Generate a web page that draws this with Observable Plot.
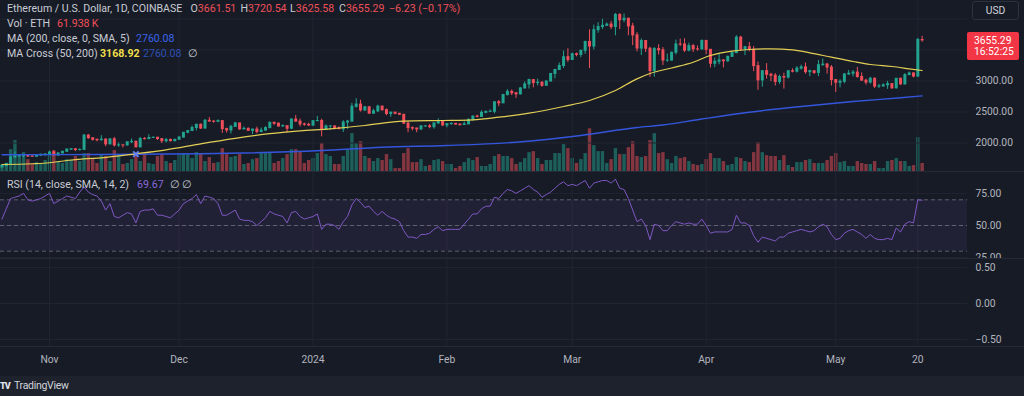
<!DOCTYPE html>
<html>
<head>
<meta charset="utf-8">
<script src="https://cdn.jsdelivr.net/npm/d3@7"></script>
<script src="https://cdn.jsdelivr.net/npm/@observablehq/plot@0.6"></script>
<style>
  html, body { margin:0; padding:0; background:#171b26; }
  #chart { position:relative; width:1024px; height:396px; overflow:hidden; background:#171b26;
           font-family: Roboto, "Open Sans", sans-serif; font-size:10.6px; color:#c5c8d0; }
  .layer { position:absolute; left:0; }
  .layer svg { display:block; }
  .sep { position:absolute; left:0; width:1024px; height:1px; background:#262a36; }
  .txt { position:absolute; white-space:pre; line-height:12px; }
</style>
</head>
<body>
<div id="chart"></div>
<script>
// ---------------- DATA ----------------
const firstDay = "2023-10-21";            // first candle (daily, UTC)
const firstOpen = 1605;
const close = [
  1629,1664,1766,1785,1788,1803,1781,1778,1795,1810,1815,
  1847,1799,1832,1858,1893,1900,1886,1889,2120,2077,2051,2044,2054,1978,2060,1961,1962,1961,2012,2020,1929,2064,2062,2081,2085,2063,2027,2048,2028,2052,
  2087,2165,2193,2242,2294,2233,2358,2345,2341,2353,2225,2202,2260,2315,2220,2228,2196,2217,2178,2201,2240,2326,2311,2266,2272,2230,2378,2345,2300,2293,2282,
  2352,2355,2210,2268,2268,2240,2222,2330,2345,2585,2620,2525,2576,2472,2511,2587,2530,2467,2490,2470,2455,2312,2240,2233,2219,2268,2268,2256,2316,2343,2283,
  2305,2309,2296,2290,2300,2373,2427,2420,2487,2502,2504,2657,2640,2773,2825,2802,2785,2880,2945,3015,2967,2972,2922,2992,3114,3177,3242,3384,3339,
  3432,3420,3488,3630,3556,3820,3870,3890,3910,3870,4066,3980,4005,3880,3736,3523,3645,3520,3160,3515,3495,3330,3330,3455,3590,3588,3490,3562,3510,3509,3647,
  3503,3278,3311,3330,3318,3390,3450,3700,3504,3545,3505,3240,3010,3159,3100,3085,2985,3064,3056,3158,3150,3200,3220,3142,3157,3130,3255,3265,3217,3015,
  2972,2988,3105,3117,3136,3064,3005,2975,3036,2910,2912,2930,2950,2882,3036,2945,3094,3122,3072,3661.51,3655.29
];
const high = [
  1637,1670,1790,1855,1805,1818,1806,1800,1802,1823,1823,
  1870,1869,1836,1865,1905,1912,1906,1905,2137,2136,2085,2064,2118,2070,2065,2090,2000,1970,2014,2065,2030,2090,2087,2134,2094,2090,2072,2074,2067,2055,
  2105,2165,2200,2275,2300,2308,2380,2410,2360,2375,2355,2240,2285,2333,2320,2260,2245,2220,2255,2240,2263,2335,2335,2325,2295,2275,2390,2445,2385,2320,2320,
  2355,2430,2385,2290,2280,2270,2260,2360,2365,2640,2715,2690,2590,2585,2545,2610,2592,2550,2495,2493,2480,2460,2345,2260,2240,2280,2280,2300,2320,2390,2350,
  2310,2325,2315,2310,2340,2390,2435,2450,2520,2515,2535,2665,2685,2785,2860,2855,2815,2895,2985,3030,3020,3030,2990,3000,3115,3190,3290,3485,3520,
  3450,3450,3495,3640,3825,3900,3940,3995,3935,3960,4090,4085,4080,4010,3930,3780,3680,3650,3545,3540,3585,3540,3435,3465,3660,3675,3680,3610,3590,3565,3660,
  3650,3510,3370,3440,3345,3400,3460,3730,3720,3560,3620,3555,3305,3165,3280,3125,3120,3095,3125,3170,3195,3230,3255,3290,3175,3165,3330,3355,3285,3250,
  3025,3020,3120,3170,3170,3220,3130,3030,3060,3050,2945,2955,2995,2960,3040,3045,3120,3145,3130,3690,3720.54
];
const low = [
  1600,1610,1662,1760,1770,1760,1765,1772,1775,1790,1780,
  1793,1792,1780,1825,1854,1880,1861,1872,1880,2060,2030,2020,2030,1940,1970,1935,1930,1920,1950,1990,1927,1927,2050,2055,2075,2040,1992,2003,2020,2020,
  2050,2085,2150,2190,2195,2220,2225,2340,2320,2330,2155,2160,2145,2250,2205,2212,2185,2135,2150,2165,2190,2230,2285,2255,2255,2165,2220,2335,2260,2270,2265,
  2265,2345,2100,2205,2205,2210,2220,2170,2220,2340,2560,2500,2510,2470,2470,2490,2510,2440,2415,2455,2450,2300,2165,2195,2165,2200,2250,2230,2225,2300,2265,
  2245,2285,2290,2270,2285,2295,2350,2405,2415,2470,2495,2470,2585,2635,2760,2765,2720,2775,2870,2870,2890,2920,2900,2915,2985,3035,3170,3200,3300,
  3335,3390,3375,3430,3200,3500,3770,3830,3885,3830,3730,3830,3940,3730,3570,3470,3410,3460,3060,3060,3420,3250,3300,3320,3420,3555,3460,3470,3460,3480,3500,
  3425,3210,3215,3260,3210,3300,3380,3440,3480,3410,3470,3150,2850,2900,3030,2990,2920,2945,2870,3030,3130,3130,3175,3110,3070,3105,3070,3240,3110,2920,
  2815,2890,2955,3090,3065,3045,3000,2935,2950,2880,2880,2905,2865,2865,2870,2930,2935,3090,3050,3055,3625.58
];
// volume, thousands of ETH
const volume = [
  54,62,169,239,131,146,92,54,69,62,85,
  139,162,77,62,92,85,116,77,139,139,100,62,131,116,77,162,131,54,62,92,146,77,131,62,54,116,131,77,62,85,
  131,139,131,100,146,139,77,108,62,69,177,131,108,116,131,54,62,92,100,146,146,146,62,77,100,131,169,169,154,62,85,
  100,139,216,131,116,54,54,116,169,293,216,231,116,100,77,100,85,131,92,23,23,139,177,69,69,92,39,46,85,92,77,
  54,54,23,39,69,100,85,108,39,39,54,116,131,116,116,100,54,69,100,146,154,100,54,85,85,139,139,208,177,
  100,62,92,139,331,200,154,154,62,92,177,131,131,185,231,116,108,116,239,293,139,146,92,62,116,100,108,77,54,46,54,
  92,139,100,100,77,46,54,108,100,77,69,146,223,146,123,116,116,85,123,46,31,69,69,85,92,62,62,62,85,116,
  139,69,77,39,39,77,62,54,54,77,23,23,77,85,100,77,77,39,46,262,61.938
];
const rsi = [
  55,63,71,72,73,75,70,69,70,71,73,
  75,67,69,71,73,72,71,76,80,76,74,73,69,62,67,57,56,58,60,59,52,61,62,62,63,58,58,57,56,59,
  62,67,69,71,74,67,73,72,71,67,58,58,60,62,55,54,54,53,50,53,56,61,59,58,57,52,60,61,57,55,56,
  57,59,47,51,51,50,47,53,57,66,71,68,64,65,61,58,61,58,56,55,53,46,41,41,40,43,43,44,47,49,46,
  47,47,47,47,51,55,59,59,63,65,65,72,71,75,78,77,75,77,79,81,78,76,72,74,76,79,82,84,81,
  82,81,83,85,79,83,84,85,85,83,86,79,78,71,62,53,55,50,39,51,50,46,46,50,53,52,51,52,51,51,55,
  50,44,45,45,45,45,47,58,52,52,50,42,37,41,40,39,38,41,41,44,45,46,47,46,45,46,49,51,49,43,
  39,40,44,46,47,45,43,40,43,40,39,39,40,39,48,45,51,53,52,70,69.67
];
// moving averages (day index from firstDay, value)
const ma50Day = [0,7,11,15,19,23,31,38,46,54,62,69,76,84,93,102,109,115,122,130,136,142,147,150,155,160,164,169,173,178,183,187,192,197,201,206,210,213];
const ma50Val = [1653,1665,1681,1718,1745,1761,1826,1890,1987,2075,2150,2195,2229,2282,2352,2363,2374,2416,2481,2589,2685,2847,3035,3121,3210,3303,3411,3481,3508,3519,3503,3455,3384,3315,3266,3234,3197,3168.92];
const ma200Day = [0,23,46,74,88,103,119,134,147,153,162,173,185,197,208,213];
const ma200Val = [1810,1815,1826,1879,1932,1960,2013,2121,2250,2290,2387,2497,2589,2669,2729,2760.08];
const crossDay = 31, crossVal = 1822;

const tickDates  = ["2023-11-01","2023-12-01","2024-01-01","2024-02-01","2024-03-01","2024-04-01","2024-05-01","2024-05-20"];
const tickLabels = ["Nov","Dec","2024","Feb","Mar","Apr","May","20"];
const priceTicks = [2000, 2500, 3000];
const priceGrid  = [2000, 2500, 3000, 3500, 4000];
const rsiTicks   = [25, 50, 75];
const rsiLevels  = [70, 50, 30];
const emptyTicks = [-0.5, 0, 0.5];

// ---------------- BUILD ----------------
const DAY = 864e5;
const t0 = +new Date(firstDay + "T00:00:00Z");
const candles = close.map((c, i) => ({
  date: new Date(t0 + i * DAY),
  open: i ? close[i - 1] : firstOpen,
  high: high[i], low: low[i], close: c,
  volume: volume[i], rsi: rsi[i]
}));
candles.forEach(d => { d.top = Math.max(d.open, d.close); d.bot = Math.min(d.open, d.close); });
const upC = candles.filter(d => d.close >= d.open);
const dnC = candles.filter(d => d.close < d.open);
const ma50 = ma50Day.map((k, i) => ({date: new Date(t0 + k * DAY), v: ma50Val[i]}));
const ma200 = ma200Day.map((k, i) => ({date: new Date(t0 + k * DAY), v: ma200Val[i]}));
const cross = [{date: new Date(t0 + crossDay * DAY), v: crossVal}];
const tDates = tickDates.map(s => new Date(s + "T00:00:00Z"));
const labelOf = new Map(tDates.map((d, i) => [+d, tickLabels[i]]));

const FONT = 'Roboto, "Open Sans", sans-serif';
const GRID = "#212531";
const UP = "#22a38f", DOWN = "#ef4f5a";
const style = {background: "transparent", color: "#b2b5be", fontFamily: FONT, fontSize: "10.3px", overflow: "hidden"};
const xOpt = (extra = {}) => Object.assign({type: "utc",
  domain: [new Date("2023-10-20T15:50:00Z"), new Date("2024-05-31T12:00:00Z")], axis: null}, extra);
const base = {width: 1024, marginLeft: 0, marginRight: 57, marginTop: 0, style};

const chart = document.getElementById("chart");
function layer(top, node) {
  const d = document.createElement("div");
  d.className = "layer"; d.style.top = top + "px";
  d.appendChild(node); chart.appendChild(d);
}
function sep(top) { const d = document.createElement("div"); d.className = "sep"; d.style.top = top + "px"; chart.appendChild(d); }

// volume (beneath the price pane)
layer(0, Plot.plot({...base, height: 171, marginBottom: 0,
  x: xOpt(), y: {domain: [0, 1324], axis: null},
  marks: [
    Plot.ruleX(upC, {x: "date", y1: 0, y2: "volume", stroke: UP, strokeOpacity: 0.5, strokeWidth: 3.4}),
    Plot.ruleX(dnC, {x: "date", y1: 0, y2: "volume", stroke: DOWN, strokeOpacity: 0.5, strokeWidth: 3.4})
  ]}));

// price pane
layer(0, Plot.plot({...base, height: 171, marginBottom: 0,
  x: xOpt(),
  y: {domain: [1540.3, 4298.4], axis: "right", ticks: priceTicks, tickFormat: d => d.toFixed(2), tickSize: 0, tickPadding: 8, label: null},
  marks: [
    Plot.ruleY(priceGrid, {stroke: GRID}),
    Plot.ruleX(tDates, {stroke: GRID}),
    Plot.ruleX(upC, {x: "date", y1: "low", y2: "high", stroke: UP, strokeWidth: 1}),
    Plot.ruleX(dnC, {x: "date", y1: "low", y2: "high", stroke: DOWN, strokeWidth: 1}),
    Plot.ruleX(upC, {x: "date", y1: "top", y2: "bot", stroke: UP, strokeWidth: 3, insetTop: -0.5, insetBottom: -0.5}),
    Plot.ruleX(dnC, {x: "date", y1: "top", y2: "bot", stroke: DOWN, strokeWidth: 3, insetTop: -0.5, insetBottom: -0.5}),
    Plot.line(ma200, {x: "date", y: "v", stroke: "#3456dc", strokeWidth: 1.4, curve: "monotone-x"}),
    Plot.line(ma50, {x: "date", y: "v", stroke: "#e2cf55", strokeWidth: 1.2, curve: "monotone-x"}),
    Plot.dot(cross, {x: "date", y: "v", symbol: "times", r: 2.6, stroke: "#5d82ff", strokeWidth: 1.8})
  ]}));
sep(171);

// RSI pane (the 25.00 label is clipped by the pane edge, as in TradingView)
layer(172, Plot.plot({...base, height: 86, marginBottom: 0,
  x: xOpt(),
  y: {domain: [24.32, 91.25], axis: "right", ticks: rsiTicks, tickFormat: d => d.toFixed(2), tickSize: 0, tickPadding: 8, label: null},
  marks: [
    Plot.ruleY(rsiTicks, {stroke: GRID}),
    Plot.ruleX(tDates, {stroke: GRID}),
    Plot.rect([{lo: rsiLevels[2], hi: rsiLevels[0]}], {y1: "lo", y2: "hi", fill: "#7e57c2", fillOpacity: 0.1}),
    Plot.ruleY(rsiLevels, {stroke: "#787b86", strokeOpacity: 0.7, strokeDasharray: "4,3"}),
    Plot.line(candles, {x: "date", y: "rsi", stroke: "#7e57c2", strokeWidth: 1})
  ]}));
sep(258);

// empty pane + time axis
layer(259, Plot.plot({...base, height: 117, marginBottom: 30,
  x: xOpt({axis: "bottom", ticks: tDates, tickFormat: d => labelOf.get(+d), tickSize: 0, tickPadding: 9, label: null}),
  y: {domain: [-0.597, 0.611], axis: "right", ticks: emptyTicks, tickFormat: d => d.toFixed(2).replace("-", "\u2212"), tickSize: 0, tickPadding: 8, label: null},
  marks: [
    Plot.ruleY(emptyTicks, {stroke: GRID}),
    Plot.ruleX(tDates, {stroke: GRID})
  ]}));
sep(346);

// ---------------- TEXT OVERLAYS ----------------
const GRAY = "#c9ccd4", RED = "#ef5058", BLUE = "#3b64ec", YEL = "#f2df4a", DBLUE = "#2f4fb4", PURP = "#8a68d8";
function txt(x, y, parts, extra = {}) {
  const d = document.createElement("div");
  d.className = "txt"; d.style.left = x + "px"; d.style.top = (y - 6) + "px";
  Object.assign(d.style, extra);
  parts.forEach(([s, c, w]) => { const sp = document.createElement("span"); sp.textContent = s; sp.style.color = c; if (w) sp.style.fontWeight = w; d.appendChild(sp); });
  chart.appendChild(d);
}
const legendTitle = "Ethereum / U.S. Dollar, 1D, COINBASE";
const last = candles[candles.length - 1];
txt(7, 8.5, [[legendTitle, GRAY]]);
txt(190.5, 8.5, [["O", GRAY], [last.open.toFixed(2), RED]]);
txt(240.5, 8.5, [["H", GRAY], [last.high.toFixed(2), RED]]);
txt(290, 8.5, [["L", GRAY], [last.low.toFixed(2), RED]]);
txt(339, 8.5, [["C", GRAY], [last.close.toFixed(2), RED]]);
txt(389, 8.5, [["\u22126.23 (\u22120.17%)", RED]]);
txt(7, 24, [["Vol \u00b7 ETH", GRAY]]);
txt(57, 24, [["61.938\u2009K", RED]]);
txt(7, 39, [["MA (200, close, 0, SMA, 5)", GRAY]]);
txt(136, 39, [[ma200Val[ma200Val.length - 1].toFixed(2), BLUE]]);
txt(7, 54, [["MA Cross (50, 200)", GRAY]]);
txt(100, 54, [[ma50Val[ma50Val.length - 1].toFixed(2), YEL, "bold"]]);
txt(143, 54, [[ma200Val[ma200Val.length - 1].toFixed(2), DBLUE]]);
txt(188, 54, [["\u2205", GRAY]]);
txt(7, 185, [["RSI (14, close, SMA, 14, 2)", GRAY]]);
txt(137, 185, [[rsi[rsi.length - 1].toFixed(2), PURP]]);
txt(170, 185, [["\u2205", GRAY]]);
txt(182, 185, [["\u2205", GRAY]]);

// USD button
const usd = document.createElement("div");
Object.assign(usd.style, {position: "absolute", left: "972px", top: "1px", width: "45px", height: "17px", border: "1px solid #2e323e",
  borderRadius: "3px", color: "#d1d4dc", textAlign: "center", lineHeight: "17px", fontSize: "10.3px", background: "#171b26"});
usd.textContent = "USD"; chart.appendChild(usd);

// last price label
const pl = document.createElement("div");
Object.assign(pl.style, {position: "absolute", left: "967px", top: "32px", width: "52px", height: "28px", background: "#f23645",
  borderRadius: "2px", color: "#ffffff", fontSize: "10.3px", lineHeight: "11px", padding: "3px 0 0 7px", boxSizing: "border-box", whiteSpace: "pre"});
pl.textContent = last.close.toFixed(2) + "\n16:52:25"; chart.appendChild(pl);

// bottom strip with logo
const strip = document.createElement("div");
Object.assign(strip.style, {position: "absolute", left: "0", top: "376px", width: "1024px", height: "20px", background: "#1e222d"});
chart.appendChild(strip);
txt(0, 386, [["TV", "#e0e3eb", "900"]], {letterSpacing: "-1px", fontSize: "9px"});
txt(14, 386, [["TradingView", "#d1d4dc"]], {fontSize: "10.5px", letterSpacing: "-0.3px"});
</script>
</body>
</html>
